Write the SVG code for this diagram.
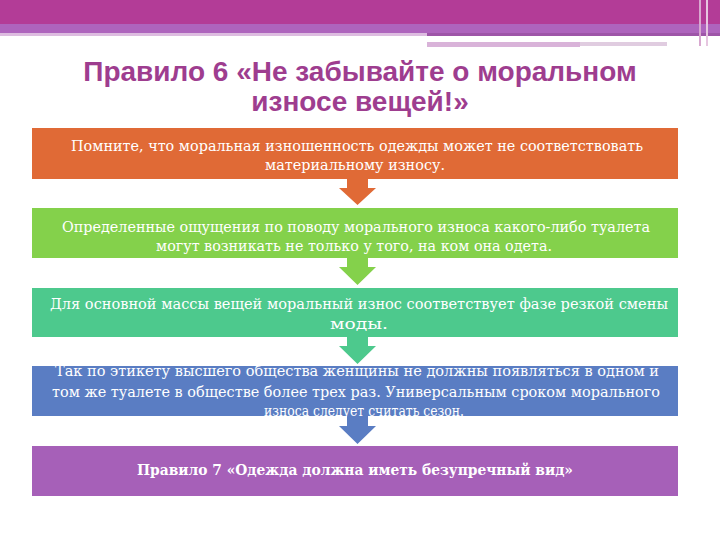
<svg xmlns="http://www.w3.org/2000/svg" width="720" height="540" viewBox="0 0 720 540">
<style>
.title{font-family:"Liberation Sans",Arial,sans-serif;font-weight:bold;font-size:28px;fill:#9E3D8F;text-anchor:middle}
.t{font-family:"DejaVu Serif","Liberation Serif",serif;font-size:14.5px;fill:#FFFFFF;text-anchor:middle}
.b{font-weight:bold}
</style>
<rect width="720" height="540" fill="#FFFFFF"/>
<g id="header">
<rect x="0" y="0" width="720" height="24" fill="#B33C97"/>
<rect x="0" y="24" width="720" height="9" fill="#AE64BD"/>
<rect x="0" y="33" width="427" height="3" fill="#DDBCE0"/>
<rect x="427" y="33" width="293" height="3" fill="#9E55A8"/>
<rect x="427" y="42" width="153" height="5" fill="#D9B3D9"/>
<rect x="580" y="42" width="87" height="4" fill="#E0CCE0"/>
<rect x="699" y="0" width="2" height="46" fill="#D8A8D0"/>
<rect x="706" y="0" width="2" height="46" fill="#E6C6E0"/>
</g>
<g id="title">
<text class="title" x="360" y="81">Правило 6 «Не забывайте о моральном</text>
<text class="title" x="360" y="111">износе вещей!»</text>
</g>
<g id="connectors">
<polygon points="347,179 368,179 368,188 376,188 357.5,205 339,188 347,188" fill="#E06A36"/>
<polygon points="347,258 368,258 368,267 376,267 357.5,285 339,267 347,267" fill="#84D14B"/>
<polygon points="347,337 368,337 368,346 376,346 357.5,364 339,346 347,346" fill="#4DC98D"/>
<polygon points="347,416 368,416 368,426 376,426 357.5,444 339,426 347,426" fill="#5A7DC3"/>
</g>
<g id="node1">
<rect x="32" y="128" width="646" height="51" fill="#E06A36"/>
<text class="t" x="357" y="151" textLength="572" lengthAdjust="spacingAndGlyphs">Помните, что моральная изношенность одежды может не соответствовать</text>
<text class="t" x="355" y="170" textLength="180" lengthAdjust="spacingAndGlyphs">материальному износу.</text>
</g>
<g id="node2">
<rect x="32" y="208" width="646" height="50" fill="#84D14B"/>
<text class="t" x="356" y="232" textLength="588" lengthAdjust="spacingAndGlyphs">Определенные ощущения по поводу морального износа какого-либо туалета</text>
<text class="t" x="354" y="251" textLength="396" lengthAdjust="spacingAndGlyphs">могут возникать не только у того, на ком она одета.</text>
</g>
<g id="node3">
<rect x="32" y="288" width="646" height="49" fill="#4DC98D"/>
<text class="t" x="359" y="309" textLength="618" lengthAdjust="spacingAndGlyphs">Для основной массы вещей моральный износ соответствует фазе резкой смены</text>
<text class="t" x="359" y="329" textLength="58" lengthAdjust="spacingAndGlyphs">моды.</text>
</g>
<g id="node4">
<rect x="32" y="366" width="646" height="50" fill="#5A7DC3"/>
<text class="t" x="357" y="376" textLength="604" lengthAdjust="spacingAndGlyphs">Так по этикету высшего общества женщины не должны появляться в одном и</text>
<text class="t" x="356" y="397" textLength="608" lengthAdjust="spacingAndGlyphs">том же туалете в обществе более трех раз. Универсальным сроком морального</text>
<text class="t" x="364" y="416" textLength="200" lengthAdjust="spacingAndGlyphs">износа следует считать сезон.</text>
</g>
<g id="node5">
<rect x="32" y="446" width="646" height="50" fill="#A660B8"/>
<text class="t b" x="355" y="475" textLength="436" lengthAdjust="spacingAndGlyphs">Правило 7 «Одежда должна иметь безупречный вид»</text>
</g>
</svg>
